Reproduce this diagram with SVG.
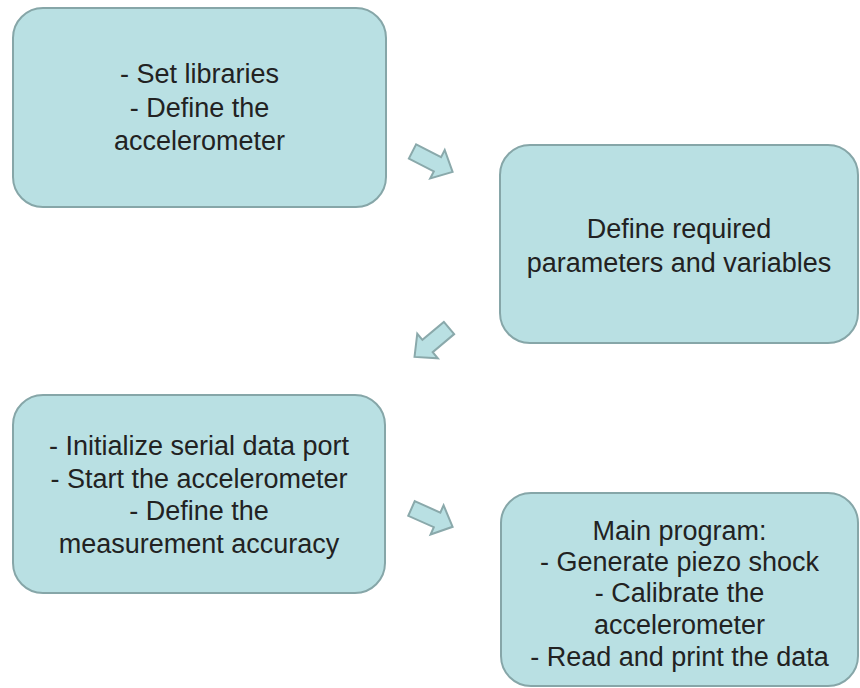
<svg xmlns="http://www.w3.org/2000/svg" width="860" height="688" viewBox="0 0 860 688">
<style>
.box{fill:#b9e0e3;stroke:#86a6a8;stroke-width:2}
.arr{fill:#b9e0e3;stroke:#8aa9ab;stroke-width:2;stroke-linejoin:miter}
text{font-family:"Liberation Sans",Arial,sans-serif;font-size:27px;fill:#222;text-anchor:middle}
</style>
<defs>
<polygon id="blk" points="0,-8 28,-8 28,-16 45,0 28,16 28,8 0,8"/>
</defs>
<rect width="860" height="688" fill="#fff"/>
<g id="connectors">
<use href="#blk" class="arr" transform="translate(412.5,151.5) rotate(27)"/>
<use href="#blk" class="arr" transform="translate(449,328) rotate(140)"/>
<use href="#blk" class="arr" transform="translate(411.5,508.5) rotate(24)"/>
</g>
<g id="n1">
<rect class="box" x="13" y="8" width="373" height="199" rx="30"/>
<text x="199.5" y="83">- Set libraries</text>
<text x="199.5" y="117">- Define the</text>
<text x="199.5" y="150">accelerometer</text>
</g>
<g id="n2">
<rect class="box" x="500" y="145" width="358" height="198" rx="30"/>
<text x="679" y="238">Define required</text>
<text x="679" y="272">parameters and variables</text>
</g>
<g id="n3">
<rect class="box" x="13" y="395" width="372" height="198" rx="30"/>
<text x="199" y="455">- Initialize serial data port</text>
<text x="199" y="488">- Start the accelerometer</text>
<text x="199" y="520">- Define the</text>
<text x="199" y="553">measurement accuracy</text>
</g>
<g id="n4">
<rect class="box" x="501" y="493" width="357" height="193" rx="30"/>
<text x="679.5" y="540">Main program:</text>
<text x="679.5" y="571">- Generate piezo shock</text>
<text x="679.5" y="602">- Calibrate the</text>
<text x="679.5" y="634">accelerometer</text>
<text x="679.5" y="666">- Read and print the data</text>
</g>
</svg>
